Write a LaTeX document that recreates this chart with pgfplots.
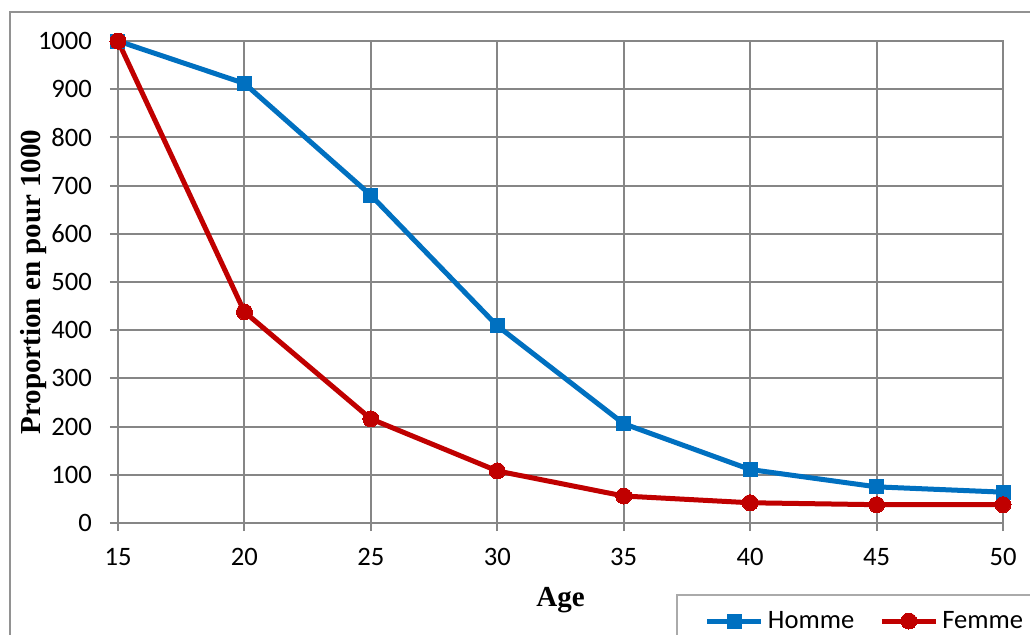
\documentclass[border=0pt]{standalone}
\usepackage{pgfplots}
\pgfplotsset{compat=1.18}
\usepackage{fontspec}
\setmainfont{Carlito}
\newfontfamily\labelfont{Liberation Serif}
\definecolor{homme}{RGB}{0,112,192}
\definecolor{femme}{RGB}{192,0,0}
\definecolor{gridgray}{RGB}{134,134,134}
\begin{document}
\begin{tikzpicture}
\useasboundingbox (0,0) rectangle (515pt,317pt);
\clip (0,0) rectangle (515pt,317pt);
\fill[white] (0,0) rectangle (515pt,317pt);
\draw[gridgray!90, line width=1pt] (5pt,-20pt) rectangle (540pt,311pt);
\begin{axis}[
  at={(59pt,55.5pt)}, anchor=south west,
  scale only axis, width=442.5pt, height=241pt,
  xmin=15, xmax=50, ymin=0, ymax=1000,
  xtick={15,20,...,50}, ytick={0,100,...,1000},
  axis line style={gridgray, line width=1pt},
  grid=major, major grid style={gridgray, line width=1pt},
  tick pos=left, tick align=outside, major tick length=4pt,
  tick style={gridgray, line width=1pt},
  /pgf/number format/assume math mode=true,
  /pgf/number format/1000 sep={},
  ticklabel style={font=\fontsize{13.3}{15}\selectfont},
  xticklabel style={yshift=-5pt},
  yticklabel style={xshift=-5.5pt},
  xlabel={Age}, ylabel={Proportion en pour 1000},
  label style={font=\labelfont\bfseries\fontsize{14.5}{17}\selectfont},
  xlabel style={at={(axis description cs:0.5,-0.16)}, anchor=center},
  ylabel style={at={(axis description cs:-0.096,0.5)}, anchor=center},
  legend columns=2,
  legend style={at={(axis description cs:0.6305,-0.1473)}, anchor=north west,
    draw=gridgray!70, line width=1pt, font=\fontsize{13.3}{15}\selectfont,
    inner xsep=14pt, inner ysep=6pt, /tikz/every even column/.append style={column sep=10.5pt}},
  legend image code/.code={\draw[mark repeat=2, mark phase=2, #1] plot coordinates {(0pt,0pt) (13.5pt,0pt) (27pt,0pt)};},
]
\addplot[homme, line width=2.5pt, mark=square*, mark size=3.5pt, mark options={solid, line width=0pt}] coordinates {
  (15,1000) (20,912) (25,680) (30,409) (35,206) (40,111) (45,75) (50,64)};
\addlegendentry{Homme}
\addplot[femme, line width=2.5pt, mark=*, mark size=4pt, mark options={solid, line width=0pt}] coordinates {
  (15,1000) (20,438) (25,216) (30,108) (35,56) (40,42) (45,38) (50,38)};
\addlegendentry{Femme}
\end{axis}
\end{tikzpicture}
\end{document}
